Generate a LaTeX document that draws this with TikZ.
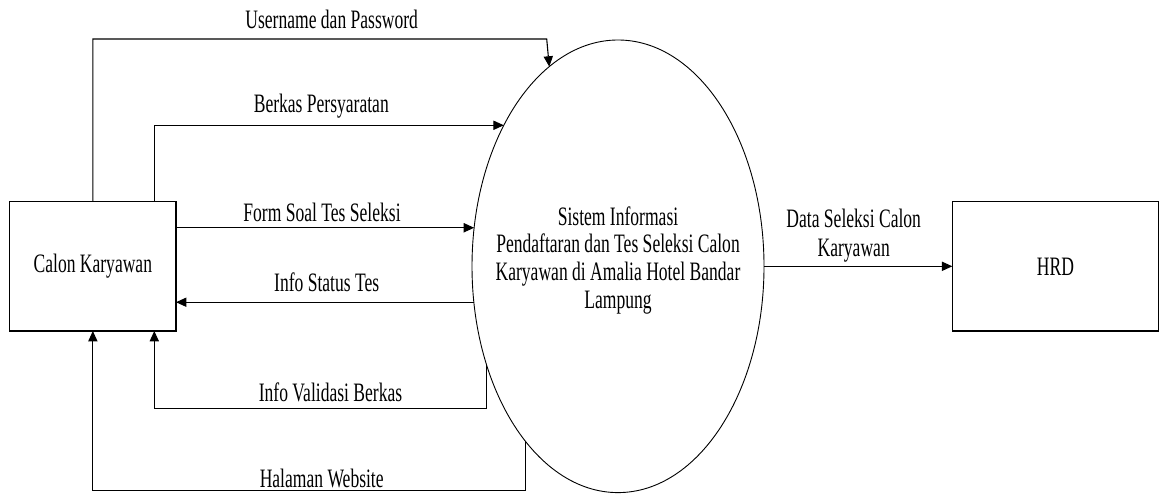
\documentclass[tikz,border=0pt]{standalone}
\usepackage{fontspec}
\setmainfont[FakeStretch=0.66]{Liberation Serif}
\usepackage{tikz}
\usetikzlibrary{arrows.meta,calc,shapes.geometric}
\tikzstyle{entity}=[draw, rectangle, line width=0.55pt, inner sep=0pt, outer sep=0pt, minimum height=64.65pt]
\tikzstyle{process}=[draw, ellipse, line width=0.45pt, inner sep=0pt, outer sep=0pt, minimum width=146pt, minimum height=226.3pt]
\tikzstyle{flow}=[draw, line width=0.55pt, -{Triangle[length=5.2pt,width=4.6pt]}]
\tikzstyle{flowlabel}=[anchor=base, inner sep=0pt]

\begin{document}
\begin{tikzpicture}[x=0.5pt,y=-0.5pt,font=\fontsize{13.3}{13.85}\selectfont]
\useasboundingbox (0,0) rectangle (1159,496);

\node[entity, minimum width=83.15pt] (cal) at (92.85,266.35) {Calon Karyawan};
\node[entity, minimum width=103.1pt] (hrd) at (1055.4,266.35) {HRD};
\node[process] (sys) at (618,266.3) {};
\node[align=center] (systext) at (618,260.35) {Sistem Informasi\\Pendaftaran dan Tes Seleksi Calon\\Karyawan di Amalia Hotel Bandar\\Lampung};

\coordinate (usr) at (546.7,39);
\coordinate (brk) at (154.3,0);
\coordinate (val) at (154.3,408.3);
\coordinate (web) at (92.85,490.7);

\draw[flow] (cal.north) |- (usr) -- (sys.109.86);
\draw[flow] (brk |- cal.north) |- (sys.129.14);
\draw[flow] (cal.east |- sys.165.1) -- (sys.165.1);
\draw[flow] (sys.194.41) -- (cal.east |- sys.194.41);
\draw[flow] (sys.217.64) |- (val) -- (val |- cal.south);
\draw[flow] (sys.242.23) |- (web) -- (cal.south);
\draw[flow] (sys.east) -- (sys.east -| hrd.west);

\node[flowlabel] (lusr) at (331.7,29) {Username dan Password};
\node[flowlabel] (lbrk) at (321.3,112.7) {Berkas Persyaratan};
\node[flowlabel] (lform) at (322,221.7) {Form Soal Tes Seleksi};
\node[flowlabel] (lstat) at (326.7,291.7) {Info Status Tes};
\node[flowlabel] (lval) at (330.5,401.7) {Info Validasi Berkas};
\node[flowlabel] (lweb) at (321.7,487.3) {Halaman Website};
\node[align=center, font=\fontsize{13.3}{14.85}\selectfont] (ldata) at (853.7,235.65) {Data Seleksi Calon\\Karyawan};

\end{tikzpicture}
\end{document}
